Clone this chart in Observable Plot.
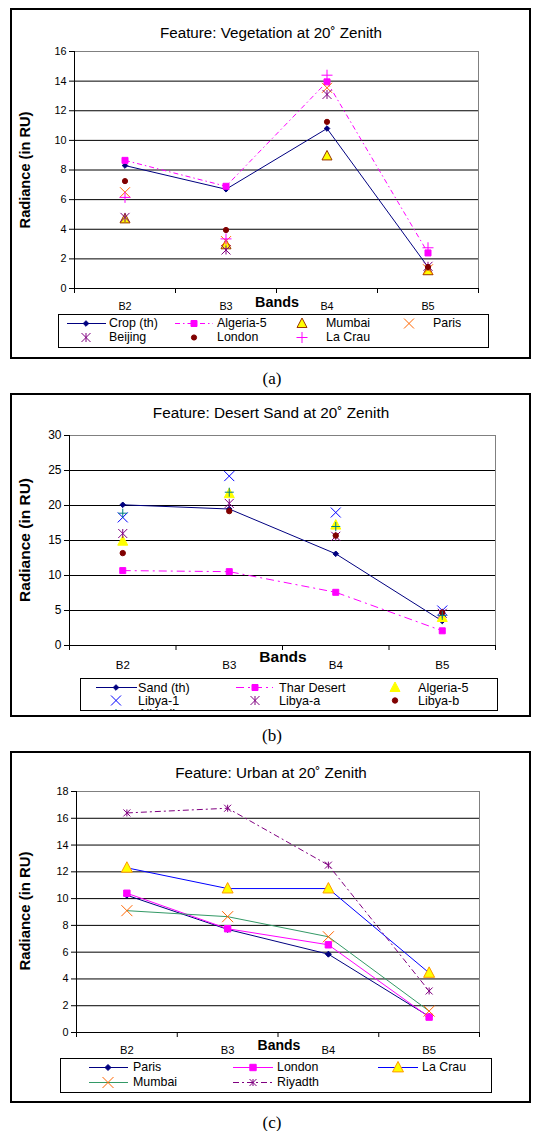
<!DOCTYPE html>
<html><head><meta charset="utf-8">
<script src="https://cdn.jsdelivr.net/npm/d3@7"></script>
<script src="https://cdn.jsdelivr.net/npm/@observablehq/plot@0.6"></script>
<style>
html,body{margin:0;padding:0;background:#fff;}
#page{position:relative;width:541px;height:1131px;overflow:hidden;font-family:"Liberation Sans",Arial,sans-serif;color:#000;}
.frame{position:absolute;border:2px solid #000;box-sizing:border-box;}
.ctr{position:absolute;transform:translate(-50%,-50%);white-space:nowrap;line-height:1;}
.cap{font-family:"Liberation Serif","Times New Roman",serif;font-size:17px;}
.legend{position:absolute;border:1px solid #000;box-sizing:border-box;overflow:hidden;background:#fff;}
.psvg{position:absolute;left:0;}
</style></head><body><div id="page"></div>
<script>
// ---------- data ----------
const bands = ["B2", "B3", "B4", "B5"];
const bandEdges = [-0.5, 0.5, 1.5, 2.5, 3.5];

// (a) Vegetation at 20° zenith
const vegTicks = [0, 2, 4, 6, 8, 10, 12, 14, 16];
const vegCropTh   = [8.3, 6.7, 10.8, 1.45];
const vegAlgeria5 = [8.65, 6.9, 13.95, 2.4];
const vegMumbai   = [4.7, 2.95, 8.95, 1.2];
const vegParis    = [6.5, 3.2, 13.55, 1.3];
const vegBeijing  = [4.8, 2.6, 13.1, 1.5];
const vegLondon   = [7.25, 3.95, 11.25, 1.45];
const vegLaCrau   = [6.15, 3.35, 14.4, 2.75];

// (b) Desert sand at 20° zenith
const sandTicks = [0, 5, 10, 15, 20, 25, 30];
const sandTh        = [20.1, 19.5, 13.1, 3.5];
const sandThar      = [10.7, 10.55, 7.6, 2.1];
const sandAlgeria5  = [14.9, 21.7, 17.2, 4.0];
const sandLibya1    = [18.3, 24.2, 19.0, 5.0];
const sandLibyaA    = [16.0, 20.3, 15.6, 4.6];
const sandLibyaB    = [13.2, 19.2, 15.7, 4.7];
const sandAlkhali   = [18.9, 21.9, 17.0, 4.3];

// (c) Urban at 20° zenith
const urbTicks = [0, 2, 4, 6, 8, 10, 12, 14, 16, 18];
const urbParis   = [10.25, 7.7, 5.85, 1.2];
const urbLondon  = [10.4, 7.75, 6.55, 1.15];
const urbLaCrau  = [12.3, 10.75, 10.75, 4.45];
const urbMumbai  = [9.1, 8.65, 7.15, 1.6];
const urbRiyadth = [16.4, 16.75, 12.5, 3.1];

// ---------- symbols (size = PI*r*r, r = half extent) ----------
const H = s => Math.sqrt(s / Math.PI);
const sym = {
  diamond: {draw(c, s) {const h = H(s); c.moveTo(0, -h); c.lineTo(h, 0); c.lineTo(0, h); c.lineTo(-h, 0); c.closePath();}},
  square: {draw(c, s) {const h = H(s); c.moveTo(-h, -h); c.lineTo(h, -h); c.lineTo(h, h); c.lineTo(-h, h); c.closePath();}},
  triangle: {draw(c, s) {const h = H(s); c.moveTo(0, -h * 1.1); c.lineTo(h, h * 0.8); c.lineTo(-h, h * 0.8); c.closePath();}},
  circle: {draw(c, s) {const h = H(s); c.moveTo(h, 0); c.arc(0, 0, h, 0, 2 * Math.PI);}},
  times: {draw(c, s) {const h = H(s); c.moveTo(-h, -h); c.lineTo(h, h); c.moveTo(-h, h); c.lineTo(h, -h);}},
  plus: {draw(c, s) {const h = H(s); c.moveTo(0, -h); c.lineTo(0, h); c.moveTo(-h, 0); c.lineTo(h, 0);}},
  star: {draw(c, s) {const h = H(s); c.moveTo(-h, -h); c.lineTo(h, h); c.moveTo(-h, h); c.lineTo(h, -h); c.moveTo(0, -h); c.lineTo(0, h);}}
};

const NAVY = "#000080", MAG = "#FF00FF", YEL = "#FFFF00", ORG = "#FF6600", PUR = "#800080",
      DRED = "#800000", BLUE = "#0000FF", TEAL = "#008080", GREEN = "#339966";

const panels = [
  {
    frame: [9, 358], svgTop: 9, height: 310, mt: 42, mb: 31, ml: 74, mr: 63, ymax: 16, ticks: vegTicks, tickPad: 14,
    yFont: 10.8, xFont: 10.8, titleFont: 15.2, yTitleFont: 14.6, bandsFont: 14.4, legFont: 12.4,
    title: "Feature: Vegetation at 20˚ Zenith", titleX: 271, titleY: 33, yTitleY: 170, bandsX: 277, bandsY: 302,
    caption: "(a)", capY: 378,
    legend: [58, 314, 489, 348],
    series: [
      {name: "Crop (th)", values: vegCropTh, line: NAVY, sym: "diamond", r: 2.8, fill: NAVY, stroke: NAVY, lg: [67, 106, 86, 109, 323]},
      {name: "Algeria-5", values: vegAlgeria5, line: MAG, dash: "5,3,1.5,3", sym: "square", r: 3, fill: MAG, stroke: MAG, lg: [175, 213, 194, 217, 323]},
      {name: "Mumbai", values: vegMumbai, sym: "triangle", r: 5, fill: YEL, stroke: "#993300", lg: [null, null, 302, 326, 323]},
      {name: "Paris", values: vegParis, sym: "times", r: 5, stroke: ORG, lg: [null, null, 409, 433, 323]},
      {name: "Beijing", values: vegBeijing, sym: "star", r: 4.5, stroke: PUR, lg: [null, null, 86, 109, 337]},
      {name: "London", values: vegLondon, sym: "circle", r: 2.6, fill: DRED, stroke: DRED, lg: [null, null, 194, 217, 337]},
      {name: "La Crau", values: vegLaCrau, sym: "plus", r: 5.5, stroke: MAG, lg: [null, null, 302, 326, 337]}
    ]
  },
  {
    frame: [394, 716], svgTop: 394, height: 280, mt: 41, mb: 29, ml: 69, mr: 46, ymax: 30, ticks: sandTicks, tickPad: 15,
    yFont: 12, xFont: 11.5, titleFont: 15.3, yTitleFont: 15.5, bandsFont: 15.5, legFont: 12.6,
    title: "Feature: Desert Sand at 20˚ Zenith", titleX: 271, titleY: 413, yTitleY: 540, bandsX: 283, bandsY: 657,
    caption: "(b)", capY: 735,
    legend: [80, 678, 498, 711],
    series: [
      {name: "Sand (th)", values: sandTh, line: NAVY, sym: "diamond", r: 2.8, fill: NAVY, stroke: NAVY, lg: [96, 137, 116, 138, 687]},
      {name: "Thar Desert", values: sandThar, line: MAG, dash: "8,4,2,4", sym: "square", r: 3, fill: MAG, stroke: MAG, lg: [236, 273, 255, 279, 687]},
      {name: "Algeria-5", values: sandAlgeria5, sym: "triangle", r: 5, fill: YEL, stroke: YEL, lg: [null, null, 395, 418, 687]},
      {name: "Libya-1", values: sandLibya1, sym: "times", r: 5, stroke: BLUE, lg: [null, null, 116, 138, 700]},
      {name: "Libya-a", values: sandLibyaA, sym: "star", r: 4.5, stroke: PUR, lg: [null, null, 255, 279, 700]},
      {name: "Libya-b", values: sandLibyaB, sym: "circle", r: 2.7, fill: DRED, stroke: DRED, lg: [null, null, 395, 418, 700]},
      {name: "Alkhali", values: sandAlkhali, sym: "plus", r: 4.5, stroke: TEAL, lg: [null, null, 116, 138, 713]}
    ]
  },
  {
    frame: [752, 1102], svgTop: 752, height: 309, mt: 39, mb: 29, ml: 76, mr: 62, ymax: 18, ticks: urbTicks, tickPad: 14,
    yFont: 10.8, xFont: 11.2, titleFont: 15.2, yTitleFont: 14.9, bandsFont: 14, legFont: 12.4,
    title: "Feature: Urban at 20˚ Zenith", titleX: 271, titleY: 773, yTitleY: 911, bandsX: 279, bandsY: 1045,
    caption: "(c)", capY: 1122,
    legend: [60, 1058, 492, 1093],
    series: [
      {name: "Paris", values: urbParis, line: NAVY, sym: "diamond", r: 3, fill: NAVY, stroke: NAVY, lg: [89, 128, 108, 133, 1067]},
      {name: "London", values: urbLondon, line: MAG, sym: "square", r: 3.2, fill: MAG, stroke: MAG, lg: [233, 273, 253, 277, 1067]},
      {name: "La Crau", values: urbLaCrau, line: BLUE, sym: "triangle", r: 5.5, fill: YEL, stroke: "#FF9900", lg: [378, 418, 398, 422, 1067]},
      {name: "Mumbai", values: urbMumbai, line: GREEN, sym: "times", r: 5.5, stroke: ORG, lg: [89, 128, 108, 133, 1082]},
      {name: "Riyadth", values: urbRiyadth, line: PUR, dash: "6,3,2,3", sym: "star", r: 3.5, stroke: PUR, lg: [233, 273, 253, 277, 1082]}
    ]
  }
];

const rows = vals => vals.map((v, i) => ({i, band: bands[i], v}));

function makePlot(p) {
  const top = p.ticks[p.ticks.length - 1];
  const marks = [
    Plot.ruleY(p.ticks.slice(1, -1), {stroke: "#000", strokeWidth: 1}),
    Plot.ruleY([top], {stroke: "#808080", strokeWidth: 1}),
    Plot.ruleX([bandEdges[bandEdges.length - 1]], {stroke: "#808080", strokeWidth: 1}),
    Plot.ruleX([bandEdges[0]], {stroke: "#000", strokeWidth: 1}),
    Plot.ruleY([0], {stroke: "#000", strokeWidth: 1}),
    Plot.axisY({ticks: p.ticks, tickSize: 5, tickPadding: 3, label: null, fontSize: p.yFont}),
    Plot.axisX({ticks: bandEdges, tickSize: 5, tickFormat: () => "", label: null}),
    Plot.axisX({ticks: [0, 1, 2, 3], tickSize: 0, tickPadding: p.tickPad, tickFormat: i => bands[i], label: null, fontSize: p.xFont})
  ];
  for (const s of p.series) {
    if (s.line) marks.push(Plot.line(rows(s.values), {x: "i", y: "v", stroke: s.line, strokeWidth: 1, strokeDasharray: s.dash, strokeLinecap: "butt"}));
    marks.push(Plot.dot(rows(s.values), {x: "i", y: "v", symbol: sym[s.sym], r: s.r, fill: s.fill || "none", stroke: s.stroke || "none", strokeWidth: 1}));
  }
  return Plot.plot({
    width: 541, height: p.height,
    marginTop: p.mt, marginBottom: p.mb, marginLeft: p.ml, marginRight: p.mr,
    x: {domain: [-0.5, 3.5]},
    y: {domain: [0, top]},
    style: {fontFamily: "'Liberation Sans', Arial, sans-serif", fontSize: "11px", color: "#000", background: "transparent", overflow: "visible"},
    marks
  });
}

const page = document.getElementById("page");
function addText(txt, x, y, css, cls) {
  const d = document.createElement("div");
  d.className = cls || "ctr";
  d.textContent = txt;
  d.style.left = x + "px"; d.style.top = y + "px";
  Object.assign(d.style, css || {});
  page.appendChild(d);
  return d;
}

for (const p of panels) {
  const fr = document.createElement("div");
  fr.className = "frame";
  fr.style.left = "10px"; fr.style.top = (p.frame[0] - 1) + "px";
  fr.style.width = "521px"; fr.style.height = (p.frame[1] - p.frame[0] + 2) + "px";
  page.appendChild(fr);

  const svg = makePlot(p);
  svg.classList.add("psvg");
  svg.style.top = p.svgTop + "px";
  page.appendChild(svg);

  addText(p.title, p.titleX, p.titleY, {fontSize: p.titleFont + "px"});
  const yt = addText("Radiance (in RU)", 25, p.yTitleY, {fontSize: p.yTitleFont + "px", fontWeight: "bold"});
  yt.style.transform = "translate(-50%,-50%) rotate(-90deg)";
  addText("Bands", p.bandsX, p.bandsY, {fontSize: p.bandsFont + "px", fontWeight: "bold"});
  addText(p.caption, 272, p.capY, {}, "ctr cap");

  // legend
  const [lx1, ly1, lx2, ly2] = p.legend;
  const lg = document.createElement("div");
  lg.className = "legend";
  lg.style.left = lx1 + "px"; lg.style.top = ly1 + "px";
  lg.style.width = (lx2 - lx1) + "px"; lg.style.height = (ly2 - ly1) + "px";
  const ls = d3.create("svg").attr("width", lx2 - lx1).attr("height", ly2 - ly1)
    .style("position", "absolute").style("left", "-1px").style("top", "-1px").style("overflow", "hidden");
  for (const s of p.series) {
    const [a, b, m, t, y] = s.lg;
    const yy = y - ly1;
    if (a != null) ls.append("line").attr("x1", a - lx1).attr("x2", b - lx1).attr("y1", yy + 0.5).attr("y2", yy + 0.5)
      .attr("stroke", s.line).attr("stroke-width", 1).attr("stroke-dasharray", s.dash || null);
    ls.append("path").attr("d", d3.symbol(sym[s.sym], Math.PI * s.r * s.r)())
      .attr("transform", `translate(${m - lx1},${yy + 0.5})`)
      .attr("fill", s.fill || "none").attr("stroke", s.stroke || "none").attr("stroke-width", 1);
    ls.append("text").attr("x", t - lx1).attr("y", yy).attr("dy", "0.36em")
      .attr("font-size", p.legFont).attr("font-family", "'Liberation Sans', Arial, sans-serif").text(s.name);
  }
  lg.appendChild(ls.node());
  page.appendChild(lg);
}
</script></body></html>
